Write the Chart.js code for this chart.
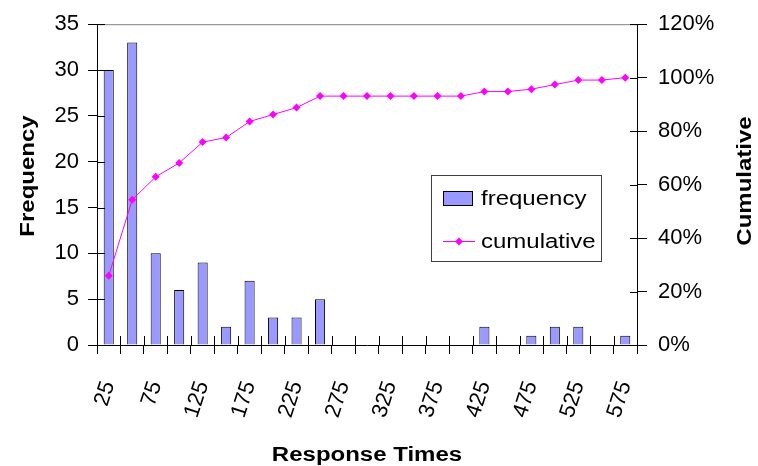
<!DOCTYPE html>
<html>
<head>
<meta charset="utf-8">
<script src="https://cdn.jsdelivr.net/npm/chart.js@4.4.1/dist/chart.umd.min.js"></script>
<style>
  html, body { margin: 0; padding: 0; background: #ffffff; }
  #wrap { width: 758px; height: 466px; position: relative; }
</style>
</head>
<body>
<div id="wrap"><canvas id="chart"></canvas></div>
<script>
const categories = ['25', '50', '75', '100', '125', '150', '175', '200', '225', '250', '275', '300',
    '325', '350', '375', '400', '425', '450', '475', '500', '525', '550', '575'];
const frequency = [30, 33, 10, 6, 9, 2, 7, 3, 3, 5, 0, 0, 0, 0, 0, 0, 2, 0, 1, 2, 2, 0, 1];
const cumulative = [0.259, 0.543, 0.629, 0.681, 0.759, 0.776, 0.836, 0.862, 0.888, 0.931, 0.931, 0.931,
    0.931, 0.931, 0.931, 0.931, 0.948, 0.948, 0.957, 0.974, 0.991, 0.991, 1.0];

const FONT = "'Liberation Sans', Arial, sans-serif";
const BAR_COLOR = '#9999ff';
const LINE_COLOR = '#ff00ff';
const STRETCH = 1.2; // the original text is drawn a little wider than plain Arial

function stretchedText(ctx, txt, x, y, angle) {
    ctx.save();
    ctx.translate(x, y);
    if (angle) ctx.rotate(angle);
    ctx.scale(STRETCH, 1);
    ctx.fillText(txt, 0, 0);
    ctx.restore();
}

// draws the inward half of the crossing tick marks, the grey top border,
// the axis titles and the boxed legend
const decorations = {
    id: 'decorations',
    afterDraw(chart) {
        const ctx = chart.ctx;
        const area = chart.chartArea;
        const x = chart.scales.x;
        const y = chart.scales.y;
        const y1 = chart.scales.y1;
        ctx.save();

        ctx.strokeStyle = '#808080';
        ctx.lineWidth = 1;
        ctx.beginPath();
        ctx.moveTo(area.left, area.top + 0.5);
        ctx.lineTo(area.right, area.top + 0.5);
        ctx.stroke();

        ctx.strokeStyle = '#000000';
        ctx.beginPath();
        const half = (x.getPixelForValue(1) - x.getPixelForValue(0)) / 2;
        for (let i = 0; i <= categories.length; i++) {
            const px = Math.round(x.getPixelForValue(i) - half) + 0.5;
            ctx.moveTo(px, area.bottom);
            ctx.lineTo(px, area.bottom - 9);
        }
        y.ticks.forEach((t, i) => {
            const py = Math.round(y.getPixelForTick(i)) + 0.5;
            ctx.moveTo(area.left, py);
            ctx.lineTo(area.left + 8, py);
        });
        y1.ticks.forEach((t, i) => {
            const py = Math.round(y1.getPixelForTick(i)) + 0.5;
            ctx.moveTo(area.right, py);
            ctx.lineTo(area.right - 7, py);
        });
        ctx.stroke();

        ctx.fillStyle = '#000000';
        ctx.font = 'bold 20px ' + FONT;
        ctx.textAlign = 'center';
        ctx.textBaseline = 'middle';
        stretchedText(ctx, 'Response Times', 367, 455, 0);
        stretchedText(ctx, 'Frequency', 28, 176, -Math.PI / 2);
        stretchedText(ctx, 'Cumulative', 745, 181, -Math.PI / 2);

        // legend
        ctx.fillStyle = '#ffffff';
        ctx.fillRect(431, 175, 171, 87);
        ctx.strokeStyle = '#404040';
        ctx.strokeRect(431.5, 175.5, 170, 86);
        ctx.fillStyle = BAR_COLOR;
        ctx.fillRect(443, 191, 30, 15);
        ctx.strokeStyle = '#000000';
        ctx.strokeRect(443.5, 191.5, 29, 14);
        ctx.strokeStyle = LINE_COLOR;
        ctx.beginPath();
        ctx.moveTo(443, 241.5);
        ctx.lineTo(475, 241.5);
        ctx.stroke();
        ctx.fillStyle = LINE_COLOR;
        ctx.beginPath();
        ctx.moveTo(459, 237.5);
        ctx.lineTo(463, 241.5);
        ctx.lineTo(459, 245.5);
        ctx.lineTo(455, 241.5);
        ctx.closePath();
        ctx.fill();
        ctx.fillStyle = '#000000';
        ctx.font = '20px ' + FONT;
        ctx.textAlign = 'left';
        stretchedText(ctx, 'frequency', 481, 199, 0);
        stretchedText(ctx, 'cumulative', 481, 242, 0);

        ctx.restore();
    }
};

new Chart(document.getElementById('chart'), {
    type: 'bar',
    data: {
        labels: categories,
        datasets: [
            {
                type: 'line',
                label: 'cumulative',
                data: cumulative,
                yAxisID: 'y1',
                borderColor: LINE_COLOR,
                backgroundColor: LINE_COLOR,
                borderWidth: 1,
                pointStyle: 'rectRot',
                pointRadius: 4,
                pointBorderWidth: 0,
                tension: 0,
                order: 0
            },
            {
                label: 'frequency',
                data: frequency,
                yAxisID: 'y',
                backgroundColor: BAR_COLOR,
                borderColor: '#000000',
                borderWidth: 1,
                barPercentage: 0.43,
                categoryPercentage: 1,
                order: 1
            }
        ]
    },
    options: {
        responsive: true,
        maintainAspectRatio: false,
        animation: false,
        layout: { padding: { top: 23, left: 0, right: 0, bottom: 0 } },
        plugins: {
            legend: { display: false },
            tooltip: { enabled: false }
        },
        scales: {
            x: {
                afterFit(scale) { scale.height = 121; },
                border: { display: true, color: '#000000', width: 1 },
                grid: { drawOnChartArea: false, drawTicks: true, tickLength: 9, color: '#000000' },
                ticks: {
                    autoSkip: false,
                    minRotation: 72,
                    maxRotation: 72,
                    padding: 24,
                    color: '#000000',
                    font: { family: FONT, size: 22 },
                    callback: function(value, index) { return index % 2 === 0 ? categories[index] : ''; }
                }
            },
            y: {
                position: 'left',
                min: 0,
                max: 35,
                afterFit(scale) { scale.width = 97; },
                border: { display: true, color: '#000000', width: 1 },
                grid: { drawOnChartArea: false, drawTicks: true, tickLength: 9, color: '#000000' },
                ticks: {
                    stepSize: 5,
                    padding: 9,
                    color: '#000000',
                    font: { family: FONT, size: 22 }
                }
            },
            y1: {
                position: 'right',
                min: 0,
                max: 1.2,
                afterFit(scale) { scale.width = 121; },
                border: { display: true, color: '#000000', width: 1 },
                grid: { drawOnChartArea: false, drawTicks: true, tickLength: 10, color: '#000000' },
                ticks: {
                    stepSize: 0.2,
                    padding: 11,
                    color: '#000000',
                    font: { family: FONT, size: 22 },
                    callback: function(value) { return Math.round(value * 100) + '%'; }
                }
            }
        }
    },
    plugins: [decorations]
});
</script>
</body>
</html>
